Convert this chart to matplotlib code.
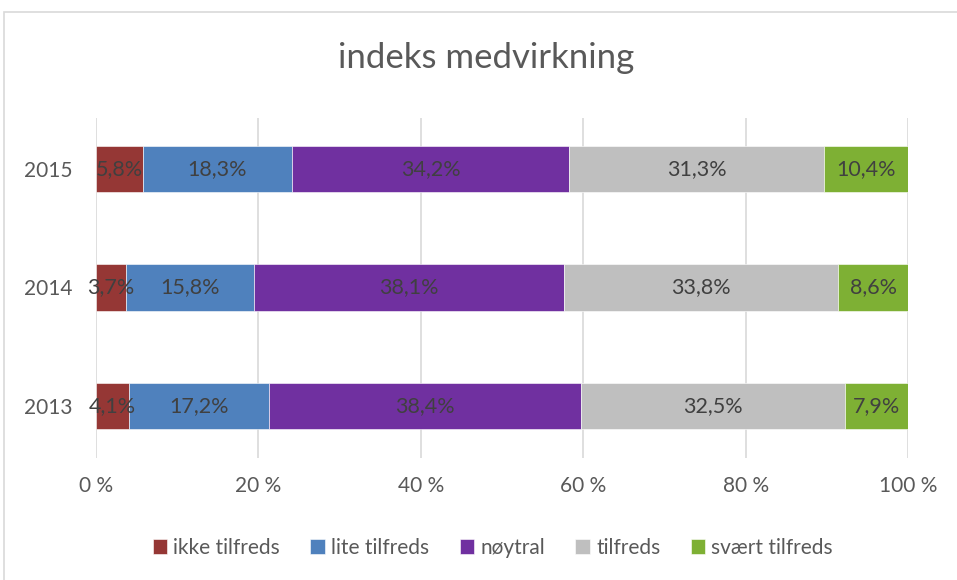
import matplotlib.pyplot as plt
from matplotlib.patches import Rectangle

# data
years = ["2013", "2014", "2015"]
categories = ["ikke tilfreds", "lite tilfreds", "nøytral", "tilfreds", "svært tilfreds"]
ikke = [4.1, 3.7, 5.8]
lite = [17.2, 15.8, 18.3]
noytral = [38.4, 38.1, 34.2]
tilfreds = [32.5, 33.8, 31.3]
svaert = [7.9, 8.6, 10.4]
colors = ["#953735", "#4F81BD", "#7030A0", "#BFBFBF", "#7EB034"]
xticks = [0, 20, 40, 60, 80, 100]

plt.rcParams['font.family'] = ['Lato', 'DejaVu Sans']

fig = plt.figure(figsize=(9.57, 5.80), dpi=100)
ax = fig.add_axes([0.1003, 0.2103, 0.8485, 0.5863])

# chart frame like the Excel chart area
fig.patches.append(Rectangle((3.5 / 957, -0.1), 1.2, 1.1 - 11.5 / 580, transform=fig.transFigure,
                             fill=False, edgecolor="#D9D9D9", linewidth=1.2))

series = [ikke, lite, noytral, tilfreds, svaert]
ypos = list(range(len(years)))
left = [0.0] * len(years)
for name, vals, col in zip(categories, series, colors):
    bars = ax.barh(ypos, vals, left=left, height=0.39, color=col, label=name,
                   edgecolor="white", linewidth=0.4, zorder=3)
    for b, v in zip(bars, vals):
        ax.text(b.get_x() + b.get_width() / 2, b.get_y() + b.get_height() / 2,
                f"{v:.1f}%".replace(".", ","), ha="center", va="center",
                fontsize=15.5, color="#404040", zorder=4)
    left = [l + v for l, v in zip(left, vals)]

ax.set_xlim(0, 100)
ax.set_ylim(-0.44, 2.43)
ax.set_xticks(xticks)
ax.set_xticklabels([f"{t} %" for t in xticks])
ax.set_yticks(ypos)
ax.set_yticklabels(years)
ax.tick_params(axis="both", length=0, labelsize=15, labelcolor="#595959")
ax.tick_params(axis="x", pad=13)
ax.tick_params(axis="y", pad=17)
ax.grid(axis="x", color="#D9D9D9", linewidth=1.2, zorder=0)
for s in ax.spines.values():
    s.set_visible(False)

fig.text(0.508, 0.900, "indeks medvirkning", ha="center", va="center",
         fontsize=25, color="#595959")

leg = ax.legend(loc="center", bbox_to_anchor=(0.515, 1 - 548 / 580), bbox_transform=fig.transFigure,
                ncol=5, frameon=False, fontsize=15, handlelength=0.7, handleheight=0.7,
                handletextpad=0.3, columnspacing=1.45)
for t in leg.get_texts():
    t.set_color("#595959")

fig.savefig("out.png", dpi=100)
